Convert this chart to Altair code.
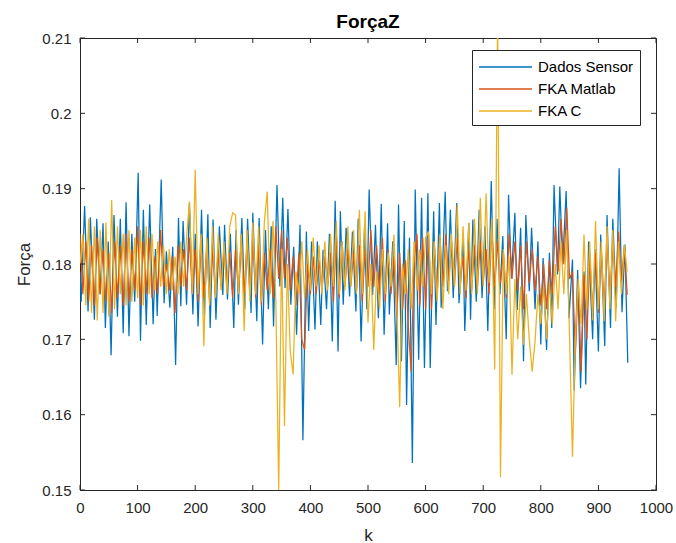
import altair as alt
import pandas as pd

series_names = ["Dados Sensor", "FKA Matlab", "FKA C"]
series_colors = ["#0072BD", "#D95319", "#EDB120"]

x_ticks = [0, 100, 200, 300, 400, 500, 600, 700, 800, 900, 1000]
y_ticks = [0.15, 0.16, 0.17, 0.18, 0.19, 0.20, 0.21]

# Dados Sensor (blue) - turning points
blue_k = [0, 2, 8, 14, 18, 25, 29, 35, 40, 44,
          49, 54, 59, 65, 70, 75, 80, 85, 90, 95,
          101, 105, 110, 115, 121, 127, 131, 134, 141, 146,
          150, 156, 161, 166, 171, 175, 179, 185, 190, 196,
          200, 205, 211, 216, 222, 226, 231, 236, 242, 248,
          251, 256, 261, 267, 271, 275, 281, 286, 291, 297,
          300, 307, 311, 317, 322, 327, 332, 336, 342, 347,
          352, 356, 361, 366, 371, 376, 382, 387, 393, 397,
          402, 408, 412, 418, 422, 428, 433, 438, 443, 448,
          452, 457, 462, 468, 473, 479, 483, 488, 494, 498,
          502, 508, 513, 518, 523, 528, 534, 537, 543, 549,
          553, 558, 563, 567, 572, 577, 582, 588, 593, 598,
          604, 608, 614, 618, 624, 627, 634, 638, 643, 648,
          654, 658, 665, 668, 675, 678, 682, 688, 693, 698,
          703, 708, 714, 719, 724, 729, 734, 740, 744, 749,
          755, 759, 765, 770, 774, 780, 784, 790, 795, 800,
          804, 810, 815, 819, 823, 829, 833, 838, 844, 849,
          855, 858, 864, 869, 875, 878, 883, 890, 894, 900,
          904, 911, 915, 921, 925, 931, 936, 941, 946, 951]
blue_v = [0.1790, 0.1750, 0.1877, 0.1737, 0.1862, 0.1726, 0.1860, 0.1760, 0.1854, 0.1715,
          0.1830, 0.1679, 0.1865, 0.1730, 0.1860, 0.1708, 0.1882, 0.1704, 0.1840, 0.1750,
          0.1921, 0.1698, 0.1872, 0.1719, 0.1879, 0.1720, 0.1820, 0.1731, 0.1912, 0.1748,
          0.1817, 0.1742, 0.1823, 0.1666, 0.1861, 0.1744, 0.1857, 0.1746, 0.1881, 0.1733,
          0.1840, 0.1717, 0.1872, 0.1730, 0.1866, 0.1715, 0.1859, 0.1726, 0.1850, 0.1759,
          0.1852, 0.1753, 0.1840, 0.1715, 0.1845, 0.1746, 0.1861, 0.1740, 0.1860, 0.1735,
          0.1868, 0.1724, 0.1861, 0.1693, 0.1845, 0.1740, 0.1850, 0.1717, 0.1905, 0.1770,
          0.1888, 0.1768, 0.1873, 0.1746, 0.1823, 0.1706, 0.1852, 0.1566, 0.1843, 0.1711,
          0.1830, 0.1713, 0.1830, 0.1719, 0.1819, 0.1740, 0.1840, 0.1697, 0.1884, 0.1684,
          0.1870, 0.1746, 0.1848, 0.1757, 0.1843, 0.1737, 0.1860, 0.1697, 0.1850, 0.1740,
          0.1899, 0.1759, 0.1852, 0.1728, 0.1880, 0.1706, 0.1854, 0.1733, 0.1830, 0.1666,
          0.1879, 0.1671, 0.1857, 0.1613, 0.1835, 0.1536, 0.1899, 0.1673, 0.1888, 0.1662,
          0.1894, 0.1662, 0.1870, 0.1719, 0.1881, 0.1742, 0.1896, 0.1764, 0.1872, 0.1755,
          0.1881, 0.1748, 0.1832, 0.1711, 0.1854, 0.1726, 0.1859, 0.1750, 0.1872, 0.1755,
          0.1850, 0.1711, 0.1910, 0.1740, 0.1860, 0.1760, 0.1837, 0.1700, 0.1892, 0.1781,
          0.1868, 0.1739, 0.1848, 0.1671, 0.1865, 0.1764, 0.1848, 0.1740, 0.1830, 0.1693,
          0.1808, 0.1686, 0.1815, 0.1715, 0.1905, 0.1786, 0.1903, 0.1799, 0.1897, 0.1728,
          0.1806, 0.1632, 0.1792, 0.1635, 0.1790, 0.1640, 0.1830, 0.1700, 0.1820, 0.1684,
          0.1839, 0.1691, 0.1865, 0.1715, 0.1860, 0.1742, 0.1927, 0.1736, 0.1826, 0.1669]

# sample positions for the two filtered series
grid_k = list(range(0, 951, 5))

red_v = [0.1840, 0.1760, 0.1830, 0.1750, 0.1825, 0.1745, 0.1835, 0.1760, 0.1820, 0.1750,
         0.1815, 0.1735, 0.1830, 0.1755, 0.1825, 0.1745, 0.1840, 0.1750, 0.1820, 0.1765,
         0.1850, 0.1745, 0.1830, 0.1760, 0.1835, 0.1755, 0.1810, 0.1760, 0.1845, 0.1770,
         0.1800, 0.1765, 0.1810, 0.1735, 0.1825, 0.1770, 0.1820, 0.1765, 0.1835, 0.1760,
         0.1820, 0.1750, 0.1830, 0.1755, 0.1825, 0.1750, 0.1820, 0.1760, 0.1815, 0.1770,
         0.1820, 0.1770, 0.1815, 0.1755, 0.1820, 0.1765, 0.1830, 0.1760, 0.1825, 0.1760,
         0.1830, 0.1755, 0.1825, 0.1745, 0.1815, 0.1765, 0.1820, 0.1755, 0.1850, 0.1780,
         0.1845, 0.1780, 0.1835, 0.1765, 0.1810, 0.1745, 0.1815, 0.1700, 0.1686, 0.1800,
         0.1760, 0.1810, 0.1760, 0.1805, 0.1765, 0.1810, 0.1770, 0.1815, 0.1750, 0.1840,
         0.1755, 0.1830, 0.1770, 0.1820, 0.1770, 0.1815, 0.1765, 0.1825, 0.1750, 0.1820,
         0.1770, 0.1845, 0.1770, 0.1825, 0.1760, 0.1835, 0.1750, 0.1820, 0.1760, 0.1810,
         0.1730, 0.1815, 0.1740, 0.1805, 0.1715, 0.1657, 0.1800, 0.1840, 0.1745, 0.1835,
         0.1740, 0.1840, 0.1740, 0.1830, 0.1760, 0.1835, 0.1770, 0.1840, 0.1775, 0.1830,
         0.1770, 0.1835, 0.1770, 0.1810, 0.1755, 0.1820, 0.1765, 0.1825, 0.1770, 0.1830,
         0.1775, 0.1820, 0.1760, 0.1845, 0.1770, 0.1830, 0.1775, 0.1815, 0.1755, 0.1840,
         0.1780, 0.1830, 0.1765, 0.1825, 0.1740, 0.1830, 0.1775, 0.1820, 0.1765, 0.1810,
         0.1745, 0.1800, 0.1740, 0.1805, 0.1760, 0.1850, 0.1790, 0.1860, 0.1800, 0.1875,
         0.1780, 0.1790, 0.1680, 0.1780, 0.1657, 0.1785, 0.1700, 0.1810, 0.1740, 0.1815,
         0.1735, 0.1820, 0.1745, 0.1830, 0.1755, 0.1830, 0.1770, 0.1843, 0.1775, 0.1825,
         0.1759]

yellow_v = [0.1800, 0.1840, 0.1745, 0.1860, 0.1735, 0.1850, 0.1725, 0.1845, 0.1735, 0.1855,
            0.1730, 0.1885, 0.1740, 0.1850, 0.1760, 0.1840, 0.1745, 0.1845, 0.1750, 0.1835,
            0.1755, 0.1845, 0.1745, 0.1850, 0.1760, 0.1840, 0.1765, 0.1830, 0.1770, 0.1825,
            0.1760, 0.1820, 0.1765, 0.1810, 0.1760, 0.1830, 0.1770, 0.1835, 0.1883, 0.1760,
            0.1925, 0.1760, 0.1840, 0.1691, 0.1835, 0.1745, 0.1850, 0.1755, 0.1840, 0.1765,
            0.1830, 0.1760, 0.1850, 0.1868, 0.1865, 0.1760, 0.1840, 0.1711, 0.1845, 0.1750,
            0.1855, 0.1760, 0.1850, 0.1750, 0.1855, 0.1896, 0.1760, 0.1857, 0.1750, 0.1500,
            0.1820, 0.1585, 0.1800, 0.1684, 0.1653, 0.1790, 0.1760, 0.1830, 0.1755, 0.1820,
            0.1765, 0.1835, 0.1770, 0.1825, 0.1760, 0.1830, 0.1765, 0.1840, 0.1770, 0.1857,
            0.1760, 0.1830, 0.1765, 0.1850, 0.1770, 0.1845, 0.1760, 0.1872, 0.1760, 0.1870,
            0.1722, 0.1800, 0.1686, 0.1790, 0.1740, 0.1820, 0.1760, 0.1815, 0.1770, 0.1839,
            0.1745, 0.1610, 0.1800, 0.1760, 0.1820, 0.1740, 0.1830, 0.1765, 0.1820, 0.1770,
            0.1835, 0.1843, 0.1760, 0.1830, 0.1750, 0.1839, 0.1740, 0.1825, 0.1760, 0.1840,
            0.1770, 0.1879, 0.1760, 0.1850, 0.1765, 0.1855, 0.1760, 0.1860, 0.1760, 0.1888,
            0.1770, 0.1894, 0.1775, 0.1860, 0.1660, 0.2130, 0.1517, 0.1820, 0.1760, 0.1810,
            0.1653, 0.1780, 0.1700, 0.1770, 0.1693, 0.1760, 0.1700, 0.1657, 0.1697, 0.1760,
            0.1720, 0.1770, 0.1700, 0.1775, 0.1720, 0.1800, 0.1740, 0.1830, 0.1760, 0.1845,
            0.1700, 0.1544, 0.1700, 0.1780, 0.1720, 0.1839, 0.1740, 0.1830, 0.1725, 0.1857,
            0.1740, 0.1830, 0.1724, 0.1850, 0.1740, 0.1845, 0.1724, 0.1830, 0.1760, 0.1825,
            0.1790]

rows = []
for k, v in zip(blue_k, blue_v):
    rows.append({"k": k, "v": v, "s": series_names[0]})
for k, v in zip(grid_k, red_v):
    rows.append({"k": k, "v": v, "s": series_names[1]})
for k, v in zip(grid_k, yellow_v):
    rows.append({"k": k, "v": v, "s": series_names[2]})
df = pd.DataFrame(rows)

W, H = 576, 452
AX = "#262626"
FONT = "Liberation Sans"

xs = alt.Scale(domain=[0, 1000], nice=False, zero=False)
ys = alt.Scale(domain=[0.15, 0.21], nice=False, zero=False)

x_axis = alt.Axis(
    values=x_ticks, title="k", format="d", ticks=False, grid=False, domainColor=AX,
    labelFont=FONT, labelFontSize=15, labelColor=AX, labelPadding=10,
    titleFont=FONT, titleFontSize=17, titleFontWeight="normal", titleColor=AX,
    titlePadding=12, labelFlush=False)
y_axis = alt.Axis(
    values=y_ticks, title="Força", format=".2~f", ticks=False, grid=False,
    domainColor=AX, labelFont=FONT, labelFontSize=15, labelColor=AX,
    labelPadding=9, titleFont=FONT, titleFontSize=17, titleFontWeight="normal",
    titleColor=AX, titlePadding=8, labelFlush=False)

x_enc = alt.X("k:Q", scale=xs, axis=x_axis, title="k")
y_enc = alt.Y("v:Q", scale=ys, axis=y_axis, title="Força")

color_enc = alt.Color(
    "s:N", scale=alt.Scale(domain=series_names, range=series_colors), title=None,
    legend=alt.Legend(orient="none", legendX=392, legendY=12,
                      strokeColor=AX, fillColor="white", padding=6,
                      symbolType="M-1,0L4.3,0", symbolSize=400,
                      symbolStrokeWidth=1.5, labelFont=FONT,
                      labelFontSize=15, labelColor="black",
                      labelOffset=38, rowPadding=3, cornerRadius=0))

base = alt.Chart(df).mark_line(strokeWidth=1.25, clip=True).encode(
    x=x_enc, y=y_enc, color=color_enc, order="k:Q")

layers = [base.transform_filter(alt.datum.s == name) for name in series_names]

xt = pd.DataFrame({"k": x_ticks})
yt = pd.DataFrame({"v": y_ticks})
tick_x_bottom = alt.Chart(xt).mark_rule(color=AX, strokeWidth=1).encode(
    x=x_enc, y=alt.value(H), y2=alt.value(H - 5))
tick_x_top = alt.Chart(xt).mark_rule(color=AX, strokeWidth=1).encode(
    x=x_enc, y=alt.value(0), y2=alt.value(5))
tick_y_left = alt.Chart(yt).mark_rule(color=AX, strokeWidth=1).encode(
    y=y_enc, x=alt.value(0), x2=alt.value(5))
tick_y_right = alt.Chart(yt).mark_rule(color=AX, strokeWidth=1).encode(
    y=y_enc, x=alt.value(W), x2=alt.value(W - 5))

chart = alt.layer(*layers, tick_x_bottom, tick_x_top, tick_y_left, tick_y_right).properties(
    width=W, height=H,
    title=alt.TitleParams("ForçaZ", font=FONT, fontSize=19, fontWeight="bold",
                          color="black", anchor="middle", offset=-1),
    autosize=alt.AutoSizeParams(type="none"),
    padding={"left": 80, "top": 38, "right": 20, "bottom": 53},
    background="white",
).configure_view(stroke=AX, strokeWidth=1)

chart.save("out.html", embed_options={"renderer": "svg", "actions": False})
